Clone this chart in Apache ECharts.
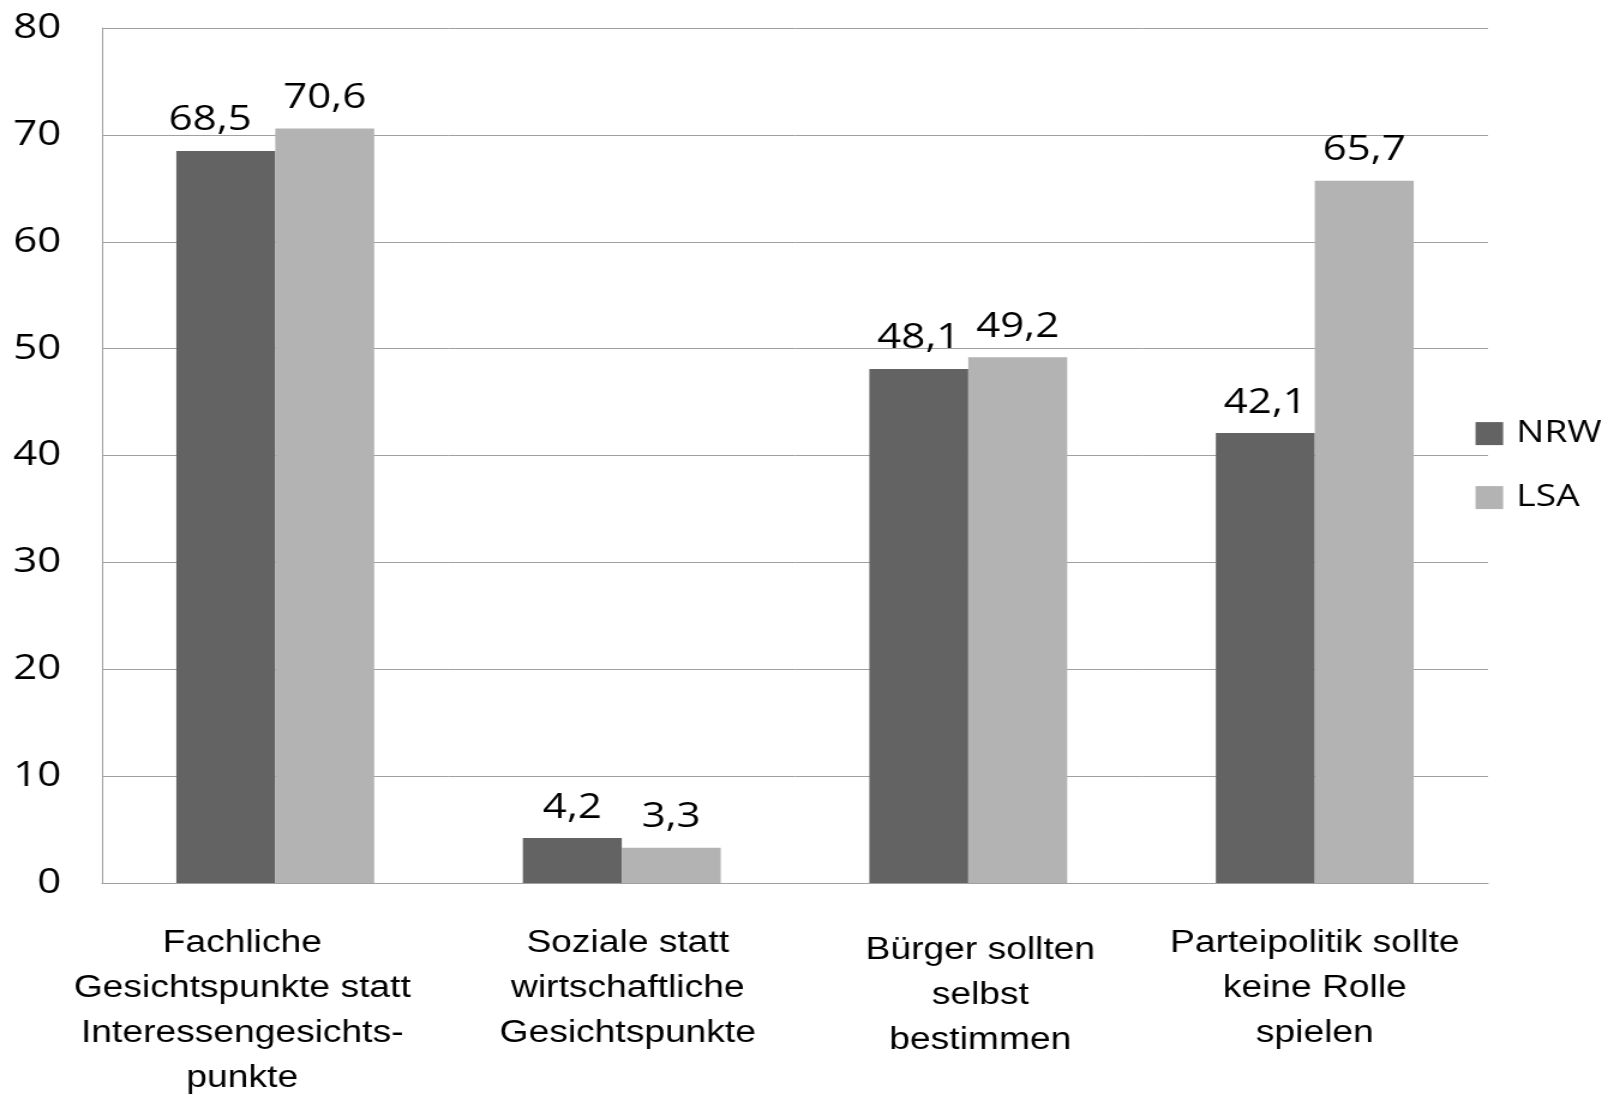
<!DOCTYPE html>
<html>
<head>
<meta charset="utf-8">
<script src="https://cdn.jsdelivr.net/npm/echarts@6/dist/echarts.min.js"></script>
<style>
  html, body { margin: 0; padding: 0; background: #fff; overflow: hidden; }
  /* The chart is laid out narrower and widened to the page with a horizontal scale */
  #chart { width: 1343.33px; height: 1095px; transform: scaleX(1.2); transform-origin: 0 0; }
</style>
</head>
<body>
<div id="chart"></div>
<script>
const categories = [
  'Fachliche\nGesichtspunkte statt\nInteressengesichts-\npunkte',
  'Soziale statt\nwirtschaftliche\nGesichtspunkte',
  'Bürger sollten\nselbst\nbestimmen',
  'Parteipolitik sollte\nkeine Rolle\nspielen'
];
const seriesNames = ['NRW', 'LSA'];
const nrwValues = [68.5, 4.2, 48.1, 42.1];
const lsaValues = [70.6, 3.3, 49.2, 65.7];
const yTicks = { min: 0, max: 80, step: 10 };

const numFont = '"Open Sans", "DejaVu Sans", sans-serif';
const catFont = '"Liberation Sans", Arial, sans-serif';

const fmt = v => String(v.toFixed(1)).replace('.', ',');

// Category label boxes are not all centred on their bar groups
const catPadding = [
  [0, 55, 0, 0],
  [0, 0, 0, 10],
  [7, 0, 0, 20],
  [0, 0, 0, 0]
];

// The first NRW label sits a little to the left so it clears its taller neighbour
function buildData(values, shiftFirst) {
  return values.map((v, i) => {
    const item = { value: v };
    if (shiftFirst && i === 0) item.label = { offset: [-13, 0] };
    return item;
  });
}

const chart = echarts.init(document.getElementById('chart'), null, { renderer: 'canvas' });

const valueLabel = {
  show: true,
  position: 'top',
  distance: 13,
  fontFamily: numFont,
  fontSize: 35,
  color: '#000',
  formatter: p => fmt(p.value)
};

chart.setOption({
  animation: false,
  backgroundColor: '#ffffff',
  grid: {
    left: 85, right: 103, top: 28, bottom: 212,
    containLabel: false,
    outerBoundsMode: 'none'
  },
  legend: {
    orient: 'vertical',
    left: 1224.6,
    top: 408.6,
    itemWidth: 23,
    itemHeight: 23,
    itemGap: 24,
    icon: 'rect',
    data: seriesNames,
    textStyle: {
      fontFamily: numFont,
      fontSize: 31,
      color: '#000',
      lineHeight: 40,
      padding: [0, 0, 0, 6]
    }
  },
  xAxis: {
    type: 'category',
    data: categories.map((c, i) => ({ value: c, textStyle: { padding: catPadding[i] } })),
    axisLine: { show: true, lineStyle: { color: '#a0a0a0', width: 1 } },
    axisTick: { show: false },
    axisLabel: {
      interval: 0,
      margin: 38,
      fontFamily: catFont,
      fontSize: 31,
      lineHeight: 45,
      color: '#000',
      align: 'center'
    },
    splitLine: { show: false }
  },
  yAxis: {
    type: 'value',
    min: yTicks.min,
    max: yTicks.max,
    interval: yTicks.step,
    axisLine: { show: true, lineStyle: { color: '#a0a0a0', width: 1 } },
    axisTick: { show: false },
    axisLabel: {
      margin: 34,
      fontFamily: numFont,
      fontSize: 35,
      color: '#000'
    },
    splitLine: { show: true, lineStyle: { color: '#a0a0a0', width: 1 } }
  },
  series: [
    {
      name: seriesNames[0],
      type: 'bar',
      data: buildData(nrwValues, true),
      itemStyle: { color: '#636363' },
      barGap: '0%',
      barCategoryGap: '42.9%',
      label: valueLabel
    },
    {
      name: seriesNames[1],
      type: 'bar',
      data: buildData(lsaValues, false),
      itemStyle: { color: '#b3b3b3' },
      barGap: '0%',
      barCategoryGap: '42.9%',
      label: valueLabel
    }
  ]
});
</script>
</body>
</html>
